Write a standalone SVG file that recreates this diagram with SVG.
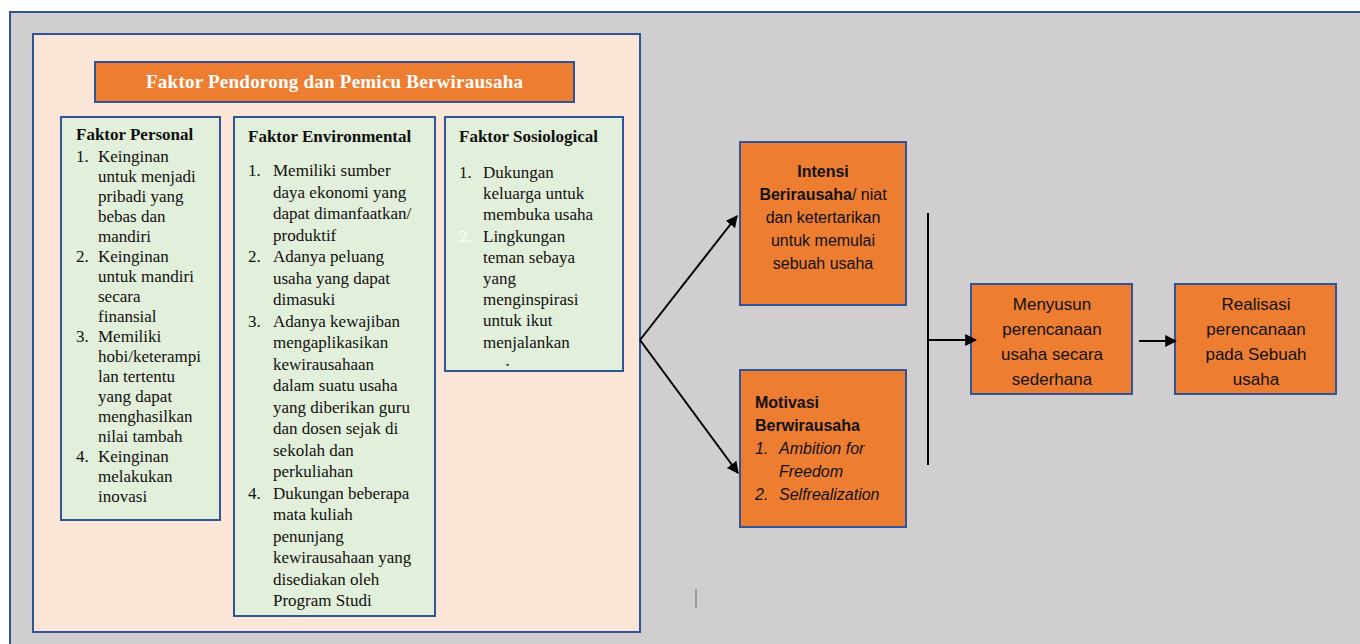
<svg xmlns="http://www.w3.org/2000/svg" width="1360" height="644" viewBox="0 0 1360 644">
<defs>
<style>
.bg{fill:#D0CECE;stroke:#2F5597;stroke-width:2}
.peach{fill:#FBE5D6;stroke:#2F5597;stroke-width:2}
.green{fill:#E2EFDA;stroke:#2F5597;stroke-width:2}
.orange{fill:#ED7D31;stroke:#2F5597;stroke-width:2}
.ser{font-family:"Liberation Serif","Times New Roman",serif;font-size:17px;fill:#111}
.serb{font-family:"Liberation Serif","Times New Roman",serif;font-size:17px;font-weight:bold;fill:#111}
.title{font-family:"Liberation Serif","Times New Roman",serif;font-size:19px;font-weight:bold;fill:#fff}
.sans{font-family:"Liberation Sans",Arial,sans-serif;font-size:16px;fill:#111}
.sans17{font-family:"Liberation Sans",Arial,sans-serif;font-size:17px;fill:#111}
.b{font-weight:bold}
.i{font-style:italic}
.line{stroke:#000;stroke-width:2;fill:none}
</style>
<marker id="ah" viewBox="0 0 10 10" refX="9" refY="5" markerWidth="6" markerHeight="6" orient="auto" markerUnits="strokeWidth">
<path d="M0,0 L10,5 L0,10 z" fill="#000"/>
</marker>
<clipPath id="sosClip"><rect x="445" y="117" width="178" height="249"/></clipPath>
</defs>

<rect x="0" y="0" width="1360" height="644" fill="#fff"/>
<rect class="bg" x="10" y="12" width="1360" height="650"/>

<g id="container">
<rect class="peach" x="33" y="34" width="607" height="598"/>
</g>

<g id="title">
<rect class="orange" x="95" y="62" width="479" height="40"/>
<text class="title" x="334.5" y="88" text-anchor="middle" textLength="377" lengthAdjust="spacing">Faktor Pendorong dan Pemicu Berwirausaha</text>
</g>

<g id="personal">
<rect class="green" x="61" y="117" width="159" height="403"/>
<text class="serb" x="76" y="140">Faktor Personal</text>
<text class="ser" x="76" y="162">1.</text>
<text class="ser" x="98" y="162">Keinginan</text>
<text class="ser" x="98" y="182">untuk  menjadi</text>
<text class="ser" x="98" y="202">pribadi yang</text>
<text class="ser" x="98" y="222">bebas dan</text>
<text class="ser" x="98" y="242">mandiri</text>
<text class="ser" x="76" y="262">2.</text>
<text class="ser" x="98" y="262">Keinginan</text>
<text class="ser" x="98" y="282">untuk mandiri</text>
<text class="ser" x="98" y="302">secara</text>
<text class="ser" x="98" y="322">finansial</text>
<text class="ser" x="76" y="342">3.</text>
<text class="ser" x="98" y="342">Memiliki</text>
<text class="ser" x="98" y="362">hobi/keterampi</text>
<text class="ser" x="98" y="382">lan tertentu</text>
<text class="ser" x="98" y="402">yang dapat</text>
<text class="ser" x="98" y="422">menghasilkan</text>
<text class="ser" x="98" y="442">nilai tambah</text>
<text class="ser" x="76" y="462">4.</text>
<text class="ser" x="98" y="462">Keinginan</text>
<text class="ser" x="98" y="482">melakukan</text>
<text class="ser" x="98" y="502">inovasi</text>
</g>

<g id="environmental">
<rect class="green" x="234" y="117" width="201" height="499"/>
<text class="serb" x="248" y="142">Faktor Environmental</text>
<text class="ser" x="248" y="176">1.</text>
<text class="ser" x="273" y="176">Memiliki  sumber</text>
<text class="ser" x="273" y="197.5">daya ekonomi yang</text>
<text class="ser" x="273" y="219">dapat dimanfaatkan/</text>
<text class="ser" x="273" y="240.5">produktif</text>
<text class="ser" x="248" y="262">2.</text>
<text class="ser" x="273" y="262">Adanya peluang</text>
<text class="ser" x="273" y="283.5">usaha yang dapat</text>
<text class="ser" x="273" y="305">dimasuki</text>
<text class="ser" x="248" y="326.5">3.</text>
<text class="ser" x="273" y="326.5">Adanya kewajiban</text>
<text class="ser" x="273" y="348">mengaplikasikan</text>
<text class="ser" x="273" y="369.5">kewirausahaan</text>
<text class="ser" x="273" y="391">dalam suatu usaha</text>
<text class="ser" x="273" y="412.5">yang diberikan guru</text>
<text class="ser" x="273" y="434">dan dosen sejak di</text>
<text class="ser" x="273" y="455.5">sekolah  dan</text>
<text class="ser" x="273" y="477">perkuliahan</text>
<text class="ser" x="248" y="498.5">4.</text>
<text class="ser" x="273" y="498.5">Dukungan beberapa</text>
<text class="ser" x="273" y="520">mata kuliah</text>
<text class="ser" x="273" y="541.5">penunjang</text>
<text class="ser" x="273" y="563">kewirausahaan yang</text>
<text class="ser" x="273" y="584.5">disediakan oleh</text>
<text class="ser" x="273" y="606">Program Studi</text>
</g>

<g id="sosiological">
<rect class="green" x="445" y="117" width="178" height="254"/>
<text class="serb" x="459" y="142">Faktor Sosiological</text>
<text class="ser" x="459" y="178">1.</text>
<text class="ser" x="483" y="178">Dukungan</text>
<text class="ser" x="483" y="199.2">keluarga untuk</text>
<text class="ser" x="483" y="220.4">membuka usaha</text>
<text class="ser" x="459" y="241.6" style="fill:#fff">2.</text>
<text class="ser" x="483" y="241.6">Lingkungan</text>
<text class="ser" x="483" y="262.8">teman sebaya</text>
<text class="ser" x="483" y="284">yang</text>
<text class="ser" x="483" y="305.2">menginspirasi</text>
<text class="ser" x="483" y="326.4">untuk ikut</text>
<text class="ser" x="483" y="347.6">menjalankan</text>
<text class="ser" x="483" y="376" clip-path="url(#sosClip)">usaha</text>
</g>

<g id="intensi">
<rect class="orange" x="740" y="142" width="166" height="163"/>
<text class="sans" x="823" y="177" text-anchor="middle"><tspan class="b">Intensi</tspan></text>
<text class="sans" x="823" y="200" text-anchor="middle"><tspan class="b">Berirausaha</tspan>/ niat</text>
<text class="sans" x="823" y="223" text-anchor="middle">dan ketertarikan</text>
<text class="sans" x="823" y="246" text-anchor="middle">untuk memulai</text>
<text class="sans" x="823" y="269" text-anchor="middle">sebuah usaha</text>
</g>

<g id="motivasi">
<rect class="orange" x="740" y="370" width="166" height="157"/>
<text class="sans b" x="755" y="408">Motivasi</text>
<text class="sans b" x="755" y="431">Berwirausaha</text>
<text class="sans i" x="755" y="454">1.</text>
<text class="sans i" x="779" y="454">Ambition for</text>
<text class="sans i" x="779" y="477">Freedom</text>
<text class="sans i" x="755" y="500">2.</text>
<text class="sans i" x="779" y="500">Selfrealization</text>
</g>

<g id="menyusun">
<rect class="orange" x="971" y="284" width="161" height="110"/>
<text class="sans17" x="1052" y="310" text-anchor="middle">Menyusun</text>
<text class="sans17" x="1052" y="335" text-anchor="middle">perencanaan</text>
<text class="sans17" x="1052" y="360" text-anchor="middle">usaha secara</text>
<text class="sans17" x="1052" y="385" text-anchor="middle">sederhana</text>
</g>

<g id="realisasi">
<rect class="orange" x="1175" y="284" width="161" height="110"/>
<text class="sans17" x="1256" y="310" text-anchor="middle">Realisasi</text>
<text class="sans17" x="1256" y="335" text-anchor="middle">perencanaan</text>
<text class="sans17" x="1256" y="360" text-anchor="middle">pada Sebuah</text>
<text class="sans17" x="1256" y="385" text-anchor="middle">usaha</text>
</g>

<g id="connectors">
<line class="line" x1="640" y1="340" x2="737" y2="216" marker-end="url(#ah)"/>
<line class="line" x1="640" y1="340" x2="738" y2="473" marker-end="url(#ah)"/>
<line class="line" x1="928" y1="213" x2="928" y2="465"/>
<line class="line" x1="928" y1="340" x2="976" y2="340" marker-end="url(#ah)"/>
<line class="line" x1="1139" y1="341" x2="1176" y2="341" marker-end="url(#ah)"/>
</g>

<line x1="696" y1="589" x2="696" y2="608" stroke="#666" stroke-width="1"/>
</svg>
